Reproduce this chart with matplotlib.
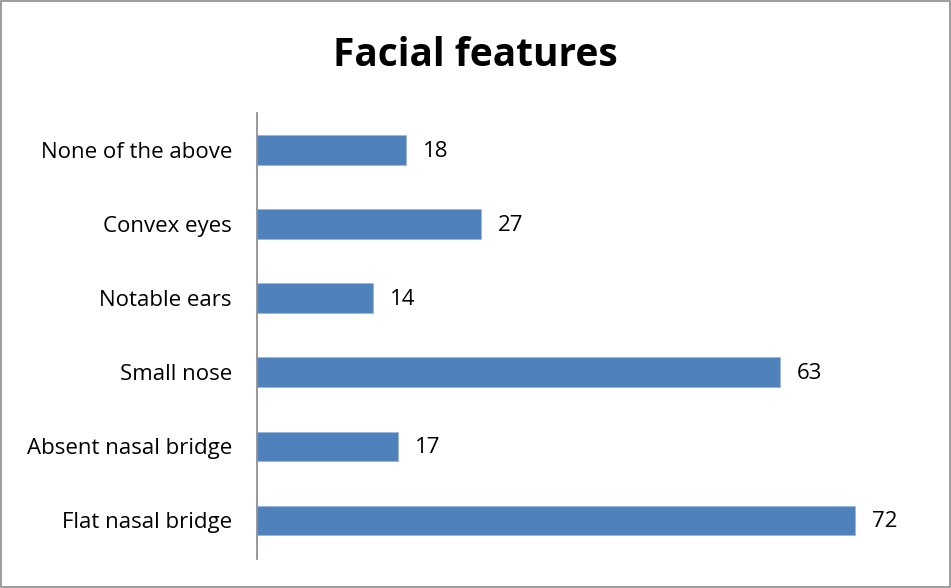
import matplotlib.pyplot as plt
from matplotlib.patches import Rectangle

categories = ["Flat nasal bridge", "Absent nasal bridge", "Small nose",
              "Notable ears", "Convex eyes", "None of the above"]
counts = [72, 17, 63, 14, 27, 18]

plt.rcParams['font.family'] = ['Open Sans', 'DejaVu Sans']

fig = plt.figure(figsize=(9.51, 5.88), dpi=100)
ax = fig.add_axes([0.2702, 0.0493, 0.6988, 0.7585])

bars = ax.barh(range(len(categories)), counts, height=0.4, color='#4F81BD',
               edgecolor='#9BB7DB', linewidth=0.6)

for bar, v in zip(bars, counts):
    ax.annotate(str(v), (bar.get_width(), bar.get_y() + bar.get_height() / 2),
                xytext=(12, -1), textcoords='offset points', va='center',
                ha='left', fontsize=16)

ax.set_xlim(0, 80)
ax.set_ylim(-0.52, 5.5)
ax.set_yticks(range(len(categories)))
ax.set_yticklabels(categories, fontsize=16)
ax.tick_params(axis='y', length=0, pad=18)
ax.set_xticks([])
for s in ['top', 'right', 'bottom']:
    ax.spines[s].set_visible(False)
ax.spines['left'].set_color('#888888')
ax.spines['left'].set_linewidth(1.2)

fig.text(0.5, 0.906, "Facial features", ha='center', va='center',
         fontsize=28, fontweight='bold')

fig.patches.append(Rectangle((0.001, 0.001), 0.998, 0.997, transform=fig.transFigure,
                             fill=False, edgecolor='#8c8c8c', linewidth=1.2))

fig.savefig('out.png', dpi=100)
